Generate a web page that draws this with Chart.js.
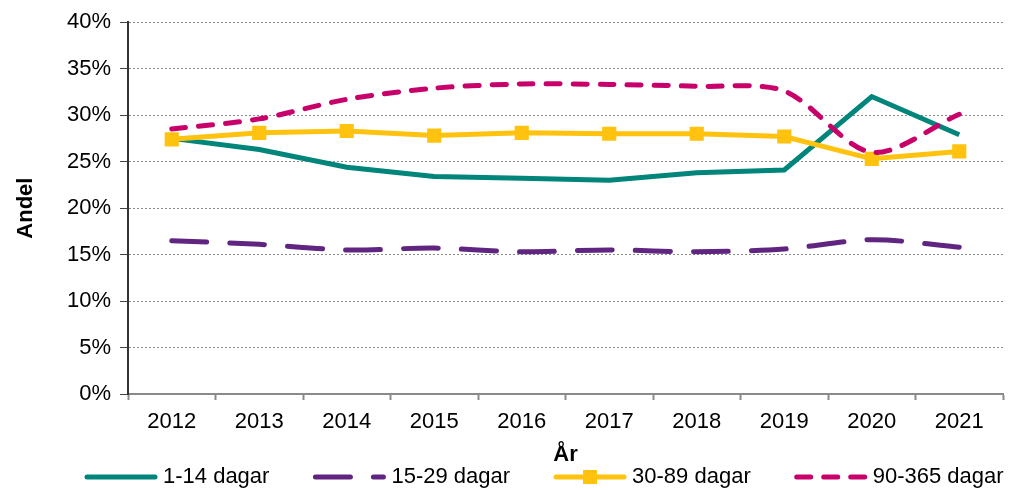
<!DOCTYPE html>
<html>
<head>
<meta charset="utf-8">
<script src="https://cdn.jsdelivr.net/npm/chart.js@4.4.1/dist/chart.umd.min.js"></script>
<style>
  body { margin: 0; background: #fff; }
</style>
</head>
<body>
<canvas id="chart" width="1013" height="490"></canvas>
<script>
const years = ['2012', '2013', '2014', '2015', '2016', '2017', '2018', '2019', '2020', '2021'];
const days1to14 = [27.5, 26.3, 24.4, 23.4, 23.2, 23.0, 23.8, 24.1, 32.0, 27.9];
const days15to29 = [16.5, 16.1, 15.5, 15.7, 15.3, 15.5, 15.3, 15.6, 16.6, 15.8];
const days30to89 = [27.4, 28.1, 28.3, 27.8, 28.1, 28.0, 28.0, 27.7, 25.3, 26.1];
const days90to365 = [28.5, 29.6, 31.7, 32.9, 33.35, 33.3, 33.1, 32.6, 26.0, 30.1];
const yTicks = [0, 5, 10, 15, 20, 25, 30, 35, 40];

const FONT = '"Liberation Sans", Arial, sans-serif';

// legend drawn by hand so the line samples show dashes and the square marker
const lineLegend = {
  id: 'lineLegend',
  afterDraw(chart) {
    const ctx = chart.ctx;
    const y = 477;
    let x = 85;
    ctx.save();
    ctx.font = '22px ' + FONT;
    ctx.textBaseline = 'middle';
    ctx.fillStyle = '#000';
    chart.data.datasets.forEach(ds => {
      ctx.beginPath();
      ctx.strokeStyle = ds.borderColor;
      ctx.lineWidth = ds.borderWidth;
      ctx.lineCap = 'round';
      ctx.setLineDash(ds.borderDash || []);
      ctx.moveTo(x + 2, y);
      ctx.lineTo(x + 70, y);
      ctx.stroke();
      ctx.setLineDash([]);
      if (ds.pointStyle === 'rect') {
        ctx.fillStyle = ds.borderColor;
        ctx.fillRect(x + 36 - 7, y - 7, 14, 14);
        ctx.fillStyle = '#000';
      }
      ctx.fillText(ds.label, x + 78, y);
      x += 78 + ctx.measureText(ds.label).width + 44;
    });
    ctx.restore();
  }
};

new Chart(document.getElementById('chart'), {
  type: 'line',
  data: {
    labels: years,
    datasets: [
      {
        label: '1-14 dagar',
        data: days1to14,
        borderColor: '#00857B',
        borderWidth: 5,
        pointRadius: 0,
        tension: 0,
        order: 3
      },
      {
        label: '15-29 dagar',
        data: days15to29,
        borderColor: '#5F2580',
        borderWidth: 5,
        borderDash: [35, 23],
        borderCapStyle: 'round',
        pointRadius: 0,
        tension: 0.3,
        order: 2
      },
      {
        label: '30-89 dagar',
        data: days30to89,
        borderColor: '#FFC20E',
        backgroundColor: '#FFC20E',
        borderWidth: 5,
        pointStyle: 'rect',
        pointRadius: 10,
        pointBorderWidth: 0,
        pointBackgroundColor: '#FFC20E',
        tension: 0,
        order: 1
      },
      {
        label: '90-365 dagar',
        data: days90to365,
        borderColor: '#C8006A',
        borderWidth: 5,
        borderDash: [14, 13],
        borderCapStyle: 'round',
        pointRadius: 0,
        tension: 0.3,
        order: 0
      }
    ]
  },
  options: {
    responsive: false,
    animation: false,
    layout: { padding: { left: 0, right: 3, top: 20, bottom: 22 } },
    plugins: {
      legend: { display: false },
      tooltip: { enabled: false }
    },
    scales: {
      x: {
        offset: true,
        afterFit: scale => { scale.height = 74; },
        grid: {
          offset: true,
          drawOnChartArea: false,
          drawTicks: true,
          tickLength: 6,
          tickColor: '#8a8a8a',
          tickWidth: 2
        },
        border: { color: '#8a8a8a', width: 2 },
        ticks: {
          color: '#000',
          padding: 9,
          maxRotation: 0,
          font: { family: FONT, size: 22 }
        },
        title: {
          display: true,
          text: 'År',
          color: '#000',
          padding: { top: 0, bottom: 0 },
          font: { family: FONT, size: 22, weight: 'bold' }
        }
      },
      y: {
        min: 0,
        max: 40,
        afterFit: scale => { scale.width = 128; },
        afterBuildTicks: scale => { scale.ticks = yTicks.map(v => ({ value: v })); },
        grid: {
          color: '#8c8c8c',
          lineWidth: 1,
          drawTicks: true,
          tickLength: 8,
          tickColor: '#444',
          tickWidth: 1,
          tickBorderDash: []
        },
        border: { color: '#333', width: 2, dash: [2, 2] },
        ticks: {
          color: '#000',
          padding: 9,
          callback: v => v + '%',
          font: { family: FONT, size: 22 }
        },
        title: {
          display: true,
          text: 'Andel',
          color: '#000',
          padding: { top: 13, bottom: 0 },
          font: { family: FONT, size: 22, weight: 'bold' }
        }
      }
    }
  },
  plugins: [lineLegend]
});
</script>
</body>
</html>
